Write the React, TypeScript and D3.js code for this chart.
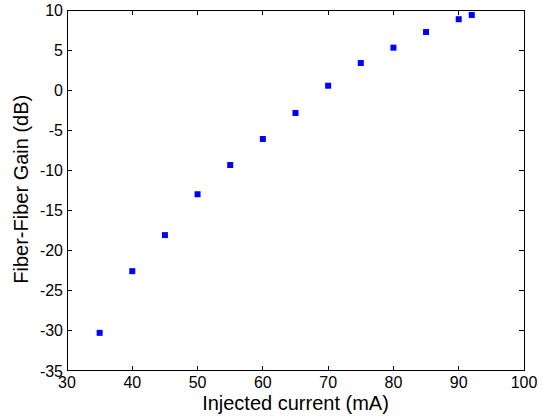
import React from "react";
import * as d3 from "d3";

const currents = [35, 40, 45, 50, 55, 60, 65, 70, 75, 80, 85, 90, 92];
const gains = [-30.3, -22.6, -18.1, -13.0, -9.35, -6.1, -2.85, 0.55, 3.38, 5.3, 7.25, 8.85, 9.38];
const xTicks = [30, 40, 50, 60, 70, 80, 90, 100];
const yTicks = [-35, -30, -25, -20, -15, -10, -5, 0, 5, 10];

const W = 548, H = 419;
const L = 67, R = 524, T = 10, B = 370.5;

export default function App() {
  const x = d3.scaleLinear().domain([30, 100]).range([L, R]);
  const y = d3.scaleLinear().domain([-35, 10]).range([B, T]);
  const font = "Helvetica, Arial, 'Liberation Sans', sans-serif";
  const tl = 5;
  const ms = 6;
  return (
    <svg width={W} height={H} style={{ position: "absolute", left: 0, top: 0, background: "#fff" }}>
      <rect x={0} y={0} width={W} height={H} fill="#fff" />
      <g stroke="#000" strokeWidth={1} shapeRendering="crispEdges">
        {xTicks.map((t) => (
          <g key={"xt" + t}>
            <line x1={x(t)} x2={x(t)} y1={B} y2={B - tl} />
            <line x1={x(t)} x2={x(t)} y1={T} y2={T + tl} />
          </g>
        ))}
        {yTicks.map((t) => (
          <g key={"yt" + t}>
            <line x1={L} x2={L + tl} y1={y(t)} y2={y(t)} />
            <line x1={R} x2={R - tl} y1={y(t)} y2={y(t)} />
          </g>
        ))}
        <rect x={L} y={T} width={R - L} height={B - T} fill="none" />
      </g>
      <g fontFamily={font} fontSize={16} fill="#000">
        {xTicks.map((t) => (
          <text key={"xl" + t} x={x(t)} y={B + 17.5} textAnchor="middle">{t}</text>
        ))}
        {yTicks.map((t) => (
          <text key={"yl" + t} x={L - 4} y={y(t) + 6} textAnchor="end">{t}</text>
        ))}
      </g>
      <text x={(L + R) / 2} y={410} textAnchor="middle" fontFamily={font} fontSize={20}>Injected current (mA)</text>
      <text transform={`translate(27.5,${(T + B) / 2 - 1}) rotate(-90)`} textAnchor="middle" fontFamily={font} fontSize={20}>Fiber-Fiber Gain (dB)</text>
      <g fill="#0000ff">
        {currents.map((c, i) => (
          <rect key={"p" + i} x={x(c) - ms / 2} y={y(gains[i]) - ms / 2} width={ms} height={ms} />
        ))}
      </g>
    </svg>
  );
}
